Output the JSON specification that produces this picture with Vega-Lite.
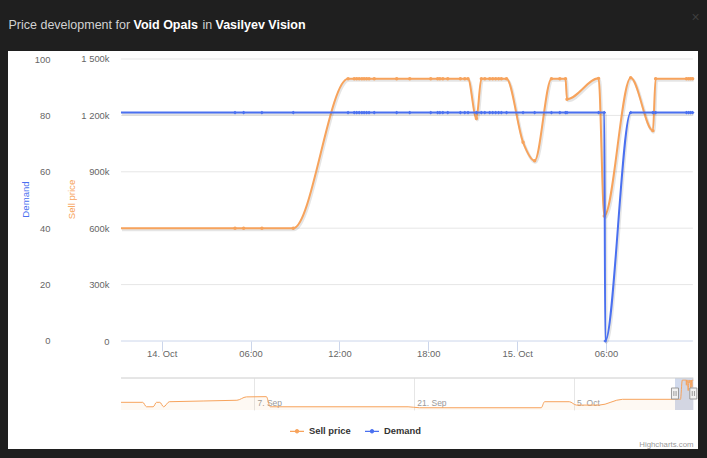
{
  "$schema": "https://vega.github.io/schema/vega-lite/v6.json",
  "width": 690,
  "height": 398,
  "autosize": {"type": "none"},
  "padding": {"left": 8, "top": 51, "right": 9, "bottom": 9},
  "background": "#1f1f1f",
  "config": {
    "view": {"fill": "#ffffff", "stroke": null},
    "font": "Liberation Sans",
    "axis": {"grid": false, "domain": false, "labelFont": "Liberation Sans", "titleFont": "Liberation Sans", "labelOverlap": false, "labelFlush": false, "labelBound": false}
  },
  "data": {
    "values": [
      {"t": "2025-08-26T08:22", "price": 475000},
      {"t": "2025-08-28T06:00", "price": 475000},
      {"t": "2025-08-28T14:00", "price": 290000},
      {"t": "2025-08-29T04:00", "price": 290000},
      {"t": "2025-08-29T11:00", "price": 475000},
      {"t": "2025-08-29T18:00", "price": 475000},
      {"t": "2025-08-30T02:00", "price": 290000},
      {"t": "2025-08-30T14:00", "price": 500000},
      {"t": "2025-09-05T12:00", "price": 560000},
      {"t": "2025-09-06T08:00", "price": 700000},
      {"t": "2025-09-08T02:00", "price": 710000},
      {"t": "2025-09-08T10:00", "price": 290000},
      {"t": "2025-09-20T12:00", "price": 290000},
      {"t": "2025-09-21T12:00", "price": 250000},
      {"t": "2025-10-02T04:00", "price": 250000},
      {"t": "2025-10-02T11:00", "price": 500000},
      {"t": "2025-10-04T15:00", "price": 500000},
      {"t": "2025-10-05T06:00", "price": 360000},
      {"t": "2025-10-07T06:00", "price": 360000},
      {"t": "2025-10-09T07:00", "price": 600000},
      {"t": "2025-10-13T21:15", "price": 600000, "demand": 81},
      {"t": "2025-10-14T04:57", "price": 600000, "demand": 81},
      {"t": "2025-10-14T05:32", "price": 600000, "demand": 81},
      {"t": "2025-10-14T06:46", "price": 600000, "demand": 81},
      {"t": "2025-10-14T08:53", "price": 600000, "demand": 81},
      {"t": "2025-10-14T12:35", "price": 1395000, "demand": 81},
      {"t": "2025-10-14T13:00", "price": 1395000, "demand": 81},
      {"t": "2025-10-14T13:10", "price": 1395000, "demand": 81},
      {"t": "2025-10-14T13:20", "price": 1395000, "demand": 81},
      {"t": "2025-10-14T13:31", "price": 1395000, "demand": 81},
      {"t": "2025-10-14T13:40", "price": 1395000, "demand": 81},
      {"t": "2025-10-14T13:50", "price": 1395000, "demand": 81},
      {"t": "2025-10-14T14:00", "price": 1395000, "demand": 81},
      {"t": "2025-10-14T14:21", "price": 1395000, "demand": 81},
      {"t": "2025-10-14T15:52", "price": 1395000, "demand": 81},
      {"t": "2025-10-14T16:45", "price": 1395000, "demand": 81},
      {"t": "2025-10-14T18:10", "price": 1395000, "demand": 81},
      {"t": "2025-10-14T18:38", "price": 1395000, "demand": 81},
      {"t": "2025-10-14T18:47", "price": 1395000, "demand": 81},
      {"t": "2025-10-14T18:59", "price": 1395000, "demand": 81},
      {"t": "2025-10-14T19:19", "price": 1395000, "demand": 81},
      {"t": "2025-10-14T20:10", "price": 1395000, "demand": 81},
      {"t": "2025-10-14T20:28", "price": 1395000, "demand": 81},
      {"t": "2025-10-14T20:41", "price": 1395000, "demand": 81},
      {"t": "2025-10-14T21:15", "price": 1184000, "demand": 81},
      {"t": "2025-10-14T21:35", "price": 1395000, "demand": 81},
      {"t": "2025-10-14T21:49", "price": 1395000, "demand": 81},
      {"t": "2025-10-14T22:09", "price": 1395000, "demand": 81},
      {"t": "2025-10-14T22:21", "price": 1395000, "demand": 81},
      {"t": "2025-10-14T22:33", "price": 1395000, "demand": 81},
      {"t": "2025-10-14T22:45", "price": 1395000, "demand": 81},
      {"t": "2025-10-14T22:56", "price": 1395000, "demand": 81},
      {"t": "2025-10-14T23:17", "price": 1395000, "demand": 81},
      {"t": "2025-10-15T00:24", "price": 1057000, "demand": 81},
      {"t": "2025-10-15T01:11", "price": 959000, "demand": 81},
      {"t": "2025-10-15T02:19", "price": 1395000, "demand": 81},
      {"t": "2025-10-15T02:53", "price": 1395000, "demand": 81},
      {"t": "2025-10-15T03:16", "price": 1395000, "demand": 81},
      {"t": "2025-10-15T03:22", "price": 1286000, "demand": 81},
      {"t": "2025-10-15T05:30", "price": 1397000, "demand": 81},
      {"t": "2025-10-15T05:53", "price": 665000, "demand": 81},
      {"t": "2025-10-15T05:57", "demand": 0},
      {"t": "2025-10-15T07:40", "price": 1400000, "demand": 81},
      {"t": "2025-10-15T09:10", "price": 1119000, "demand": 81},
      {"t": "2025-10-15T09:21", "price": 1395000, "demand": 81},
      {"t": "2025-10-15T11:26", "price": 1395000, "demand": 81},
      {"t": "2025-10-15T11:35", "price": 1395000, "demand": 81},
      {"t": "2025-10-15T11:43", "price": 1395000, "demand": 81},
      {"t": "2025-10-15T11:51", "price": 1395000, "demand": 81}
    ],
    "format": {"parse": {"t": "date"}}
  },
  "layer": [
    {
      "data": {"values": [{"v": 300000}, {"v": 600000}, {"v": 900000}, {"v": 1200000}, {"v": 1500000}]},
      "mark": {"type": "rule", "color": "#e6e6e6", "strokeWidth": 1},
      "encoding": {
        "y": {"field": "v", "type": "quantitative", "scale": {"domain": [-574468, 1542553]}, "axis": null},
        "x": {"datum": {"year": 2025, "month": 10, "date": 13, "hours": 21, "minutes": 15}, "type": "temporal",
              "scale": {"domain": [{"year": 2025, "month": 10, "date": 13, "hours": 13, "minutes": 37, "seconds": 19}, {"year": 2025, "month": 10, "date": 15, "hours": 12, "minutes": 12, "seconds": 43}]},
              "axis": {"orient": "top", "ticks": false, "labels": false, "title": "Price development for", "titleX": 0, "titleY": -23, "titleAlign": "left", "titleAnchor": null, "titleBaseline": "alphabetic", "titleAngle": 0, "titleFont": "Liberation Sans", "titleFontSize": 12.5, "titleFontWeight": "normal", "titleColor": "#d2d2d2"}},
        "x2": {"datum": {"year": 2025, "month": 10, "date": 15, "hours": 11, "minutes": 52}}
      }
    },
    {
      "data": {"values": [{"edge": "axis"}]},
      "mark": {"type": "rule", "color": "#ccd6eb", "strokeWidth": 1},
      "encoding": {
        "y": {"datum": 0, "type": "quantitative", "scale": {"domain": [-574468, 1542553]}, "axis": null},
        "x": {"datum": {"year": 2025, "month": 10, "date": 13, "hours": 21, "minutes": 15}, "type": "temporal",
              "scale": {"domain": [{"year": 2025, "month": 10, "date": 13, "hours": 13, "minutes": 37, "seconds": 19}, {"year": 2025, "month": 10, "date": 15, "hours": 12, "minutes": 12, "seconds": 43}]}, "axis": null},
        "x2": {"datum": {"year": 2025, "month": 10, "date": 15, "hours": 11, "minutes": 52}}
      }
    },
    {
      "transform": [{"filter": "datum.t >= datetime(2025,9,13,21,15) && isValid(datum.price)"}],
      "mark": {"type": "line", "interpolate": "monotone", "color": "#000000", "opacity": 0.1, "strokeWidth": 3, "xOffset": 1, "yOffset": 1.5},
      "encoding": {
        "x": {"field": "t", "type": "temporal",
              "scale": {"domain": [{"year": 2025, "month": 10, "date": 13, "hours": 13, "minutes": 37, "seconds": 19}, {"year": 2025, "month": 10, "date": 15, "hours": 12, "minutes": 12, "seconds": 43}]},
              "axis": {"orient": "top", "ticks": false, "labels": false, "title": "×", "titleX": 687, "titleY": -34, "titleAlign": "center", "titleAnchor": null, "titleBaseline": "middle", "titleAngle": 0, "titleFontSize": 14, "titleFontWeight": "normal", "titleColor": "#3e3e3e"}},
        "y": {"field": "price", "type": "quantitative", "scale": {"domain": [-574468, 1542553]}, "axis": null}
      }
    },
    {
      "transform": [{"filter": "datum.t >= datetime(2025,9,13,21,15) && isValid(datum.price)"}],
      "mark": {"type": "line", "interpolate": "monotone", "strokeWidth": 2},
      "encoding": {
        "x": {"field": "t", "type": "temporal",
              "scale": {"domain": [{"year": 2025, "month": 10, "date": 13, "hours": 13, "minutes": 37, "seconds": 19}, {"year": 2025, "month": 10, "date": 15, "hours": 12, "minutes": 12, "seconds": 43}]},
              "axis": {"orient": "bottom", "offset": -108, "title": null,
                       "values": [{"year": 2025, "month": 10, "date": 14, "hours": 0}, {"year": 2025, "month": 10, "date": 14, "hours": 6}, {"year": 2025, "month": 10, "date": 14, "hours": 12}, {"year": 2025, "month": 10, "date": 14, "hours": 18}, {"year": 2025, "month": 10, "date": 15, "hours": 0}, {"year": 2025, "month": 10, "date": 15, "hours": 6}],
                       "labelExpr": "hours(datum.value) == 0 ? timeFormat(datum.value, '%-d. %b') : timeFormat(datum.value, '%H:%M')",
                       "ticks": true, "tickSize": 10, "tickColor": "#ccd6eb", "tickWidth": 1,
                       "labelPadding": 5, "labelBaseline": "alphabetic", "labelAlign": "center", "labelColor": "#666666", "labelFontSize": 9.4}},
        "y": {"field": "price", "type": "quantitative", "scale": {"domain": [-574468, 1542553]},
              "axis": {"orient": "left", "offset": -113, "values": [0, 300000, 600000, 900000, 1200000, 1500000],
                       "labelExpr": "datum.value == 0 ? '0' : replace(format(datum.value / 1000, ','), ',', ' ') + 'k'",
                       "ticks": false, "tickSize": 0, "labelPadding": 12, "labelColor": "#666666", "labelFontSize": 9.4, "labelBaseline": "middle",
                       "title": "Sell price", "titleX": -50, "titleY": 148, "titleAngle": 270, "titleAlign": "center", "titleAnchor": null, "titleBaseline": "middle", "titleColor": "#f7a35c", "titleFontSize": 9.6, "titleFontWeight": "normal"}},
        "color": {"datum": "Sell price", "type": "nominal",
                  "scale": {"domain": ["Sell price", "Demand"], "range": ["#f7a35c", "#4a70f0"]},
                  "legend": {"orient": "none", "legendX": 281, "legendY": 372, "direction": "horizontal", "title": null,
                             "labelFont": "Liberation Sans", "labelFontSize": 9.4, "labelFontWeight": "bold", "labelColor": "#333333",
                             "symbolType": "M-1,0H1M-0.22,0A0.22,0.22,0,1,1,0.22,0A0.22,0.22,0,1,1,-0.22,0",
                             "symbolSize": 196, "symbolStrokeWidth": 1.3, "labelOffset": 4, "columnPadding": 11,
                             "encode": {"symbols": {"update": {"fill": {"scale": "color", "field": "value"}}}}}}
      }
    },
    {
      "transform": [{"filter": "datum.t > datetime(2025,9,13,21,15) && isValid(datum.price)"}],
      "mark": {"type": "point", "filled": true, "shape": "circle", "size": 12, "color": "#f7a35c", "opacity": 1},
      "encoding": {
        "x": {"field": "t", "type": "temporal",
              "scale": {"domain": [{"year": 2025, "month": 10, "date": 13, "hours": 13, "minutes": 37, "seconds": 19}, {"year": 2025, "month": 10, "date": 15, "hours": 12, "minutes": 12, "seconds": 43}]},
              "axis": {"orient": "top", "ticks": false, "labels": false, "title": "Void Opals", "titleX": 125, "titleY": -23, "titleAlign": "left", "titleAnchor": null, "titleBaseline": "alphabetic", "titleAngle": 0, "titleFont": "Liberation Sans", "titleFontSize": 12.5, "titleFontWeight": "bold", "titleColor": "#ffffff"}},
        "y": {"field": "price", "type": "quantitative", "scale": {"domain": [-574468, 1542553]}, "axis": null}
      }
    },
    {
      "transform": [{"filter": "datum.t >= datetime(2025,9,13,21,15) && isValid(datum.demand)"}],
      "mark": {"type": "line", "interpolate": "monotone", "color": "#000000", "opacity": 0.1, "strokeWidth": 3, "xOffset": 1, "yOffset": 1.5},
      "encoding": {
        "x": {"field": "t", "type": "temporal",
              "scale": {"domain": [{"year": 2025, "month": 10, "date": 13, "hours": 13, "minutes": 37, "seconds": 19}, {"year": 2025, "month": 10, "date": 15, "hours": 12, "minutes": 12, "seconds": 43}]},
              "axis": {"orient": "top", "ticks": false, "labels": false, "title": "Vasilyev Vision", "titleX": 207, "titleY": -23, "titleAlign": "left", "titleAnchor": null, "titleBaseline": "alphabetic", "titleAngle": 0, "titleFont": "Liberation Sans", "titleFontSize": 12.5, "titleFontWeight": "bold", "titleColor": "#ffffff"}},
        "y": {"field": "demand", "type": "quantitative", "scale": {"domain": [-38.2979, 102.8369]}, "axis": null}
      }
    },
    {
      "transform": [{"filter": "datum.t >= datetime(2025,9,13,21,15) && isValid(datum.demand)"}],
      "mark": {"type": "line", "interpolate": "monotone", "strokeWidth": 2},
      "encoding": {
        "x": {"field": "t", "type": "temporal",
              "scale": {"domain": [{"year": 2025, "month": 10, "date": 13, "hours": 13, "minutes": 37, "seconds": 19}, {"year": 2025, "month": 10, "date": 15, "hours": 12, "minutes": 12, "seconds": 43}]}, "axis": null},
        "y": {"field": "demand", "type": "quantitative", "scale": {"domain": [-38.2979, 102.8369]},
              "axis": {"orient": "left", "offset": -54, "values": [0, 20, 40, 60, 80, 100],
                       "ticks": false, "tickSize": 0, "labelPadding": 12, "labelColor": "#666666", "labelFontSize": 9.4, "labelBaseline": "middle",
                       "title": "Demand", "titleX": -37, "titleY": 148, "titleAngle": 270, "titleAlign": "center", "titleAnchor": null, "titleBaseline": "middle", "titleColor": "#4a70f0", "titleFontSize": 9.6, "titleFontWeight": "normal"}},
        "color": {"datum": "Demand", "type": "nominal"}
      }
    },
    {
      "transform": [{"filter": "datum.t > datetime(2025,9,13,21,15) && isValid(datum.demand)"}],
      "mark": {"type": "point", "filled": true, "shape": "diamond", "size": 14, "color": "#4a70f0", "opacity": 1},
      "encoding": {
        "x": {"field": "t", "type": "temporal",
              "scale": {"domain": [{"year": 2025, "month": 10, "date": 13, "hours": 13, "minutes": 37, "seconds": 19}, {"year": 2025, "month": 10, "date": 15, "hours": 12, "minutes": 12, "seconds": 43}]},
              "axis": {"orient": "top", "ticks": false, "labels": false, "title": "in", "titleX": 194, "titleY": -23, "titleAlign": "left", "titleAnchor": null, "titleBaseline": "alphabetic", "titleAngle": 0, "titleFont": "Liberation Sans", "titleFontSize": 12.5, "titleFontWeight": "normal", "titleColor": "#d2d2d2"}},
        "y": {"field": "demand", "type": "quantitative", "scale": {"domain": [-38.2979, 102.8369]}, "axis": null}
      }
    },
    {
      "data": {"values": [{"range": "selected"}]},
      "mark": {"type": "rect", "fill": "#6685c2", "fillOpacity": 0.3, "strokeWidth": 0},
      "encoding": {
        "x": {"datum": {"year": 2025, "month": 10, "date": 13, "hours": 21, "minutes": 15}, "type": "temporal",
              "scale": {"domain": [{"year": 2025, "month": 8, "date": 16, "hours": 10, "minutes": 42}, {"year": 2025, "month": 10, "date": 15, "hours": 21, "minutes": 40}]}, "axis": null},
        "x2": {"datum": {"year": 2025, "month": 10, "date": 15, "hours": 11, "minutes": 52}},
        "y": {"datum": 1482900, "type": "quantitative", "scale": {"domain": [-1460100, 15037300]}, "axis": null},
        "y2": {"datum": 156500}
      }
    },
    {
      "transform": [{"filter": "isValid(datum.price)"}],
      "mark": {"type": "area", "interpolate": "monotone", "color": "#f7a35c", "opacity": 0.07},
      "encoding": {
        "x": {"field": "t", "type": "temporal",
              "scale": {"domain": [{"year": 2025, "month": 8, "date": 16, "hours": 10, "minutes": 42}, {"year": 2025, "month": 10, "date": 15, "hours": 21, "minutes": 40}]}, "axis": null},
        "y": {"field": "price", "type": "quantitative", "scale": {"domain": [-1460100, 15037300]}, "axis": null},
        "y2": {"datum": 156500}
      }
    },
    {
      "transform": [{"filter": "isValid(datum.price)"}],
      "mark": {"type": "line", "interpolate": "monotone", "color": "#f7a35c", "strokeWidth": 1},
      "encoding": {
        "x": {"field": "t", "type": "temporal",
              "scale": {"domain": [{"year": 2025, "month": 8, "date": 16, "hours": 10, "minutes": 42}, {"year": 2025, "month": 10, "date": 15, "hours": 21, "minutes": 40}]},
              "axis": {"orient": "bottom", "offset": -39, "values": [{"year": 2025, "month": 9, "date": 7}, {"year": 2025, "month": 9, "date": 21}, {"year": 2025, "month": 10, "date": 5}],
                       "labelExpr": "timeFormat(datum.value, '%-d. %b')",
                       "ticks": true, "tickSize": -32, "tickColor": "#e6e6e6", "tickWidth": 1,
                       "labelPadding": 27, "labelBaseline": "alphabetic", "labelAlign": "left", "labelOffset": 3, "labelColor": "#999999", "labelFontSize": 8.5,
                       "title": "Highcharts.com", "titleX": 685, "titleY": 36, "titleAlign": "right", "titleAnchor": null, "titleBaseline": "alphabetic", "titleAngle": 0, "titleFontSize": 7.8, "titleFontWeight": "normal", "titleColor": "#999999"}},
        "y": {"field": "price", "type": "quantitative", "scale": {"domain": [-1460100, 15037300]}, "axis": null}
      }
    },
    {
      "data": {"values": [{"edge": "outline"}]},
      "mark": {"type": "rule", "color": "#cccccc", "strokeWidth": 1},
      "encoding": {
        "x": {"datum": {"year": 2025, "month": 8, "date": 26, "hours": 8, "minutes": 22}, "type": "temporal",
              "scale": {"domain": [{"year": 2025, "month": 8, "date": 16, "hours": 10, "minutes": 42}, {"year": 2025, "month": 10, "date": 15, "hours": 21, "minutes": 40}]}, "axis": null},
        "x2": {"datum": {"year": 2025, "month": 10, "date": 15, "hours": 11, "minutes": 52}},
        "y": {"datum": 1482900, "type": "quantitative", "scale": {"domain": [-1460100, 15037300]}, "axis": null}
      }
    },
    {
      "data": {"values": [{"edge": "start", "t": "2025-10-13T21:15"}, {"edge": "end", "t": "2025-10-15T11:52"}], "format": {"parse": {"t": "date"}}},
      "mark": {"type": "point", "shape": "M-0.64,-1H0.64V1H-0.64ZM-0.2,-0.45V0.45M0.2,-0.45V0.45", "size": 121, "filled": true, "fill": "#f2f2f2", "stroke": "#999999", "strokeWidth": 1, "opacity": 1},
      "encoding": {
        "x": {"field": "t", "type": "temporal",
              "scale": {"domain": [{"year": 2025, "month": 8, "date": 16, "hours": 10, "minutes": 42}, {"year": 2025, "month": 10, "date": 15, "hours": 21, "minutes": 40}]}, "axis": null},
        "y": {"datum": 840000, "type": "quantitative", "scale": {"domain": [-1460100, 15037300]}, "axis": null}
      }
    }
  ],
  "resolve": {"scale": {"x": "independent", "y": "independent"}, "axis": {"x": "independent", "y": "independent"}}
}
